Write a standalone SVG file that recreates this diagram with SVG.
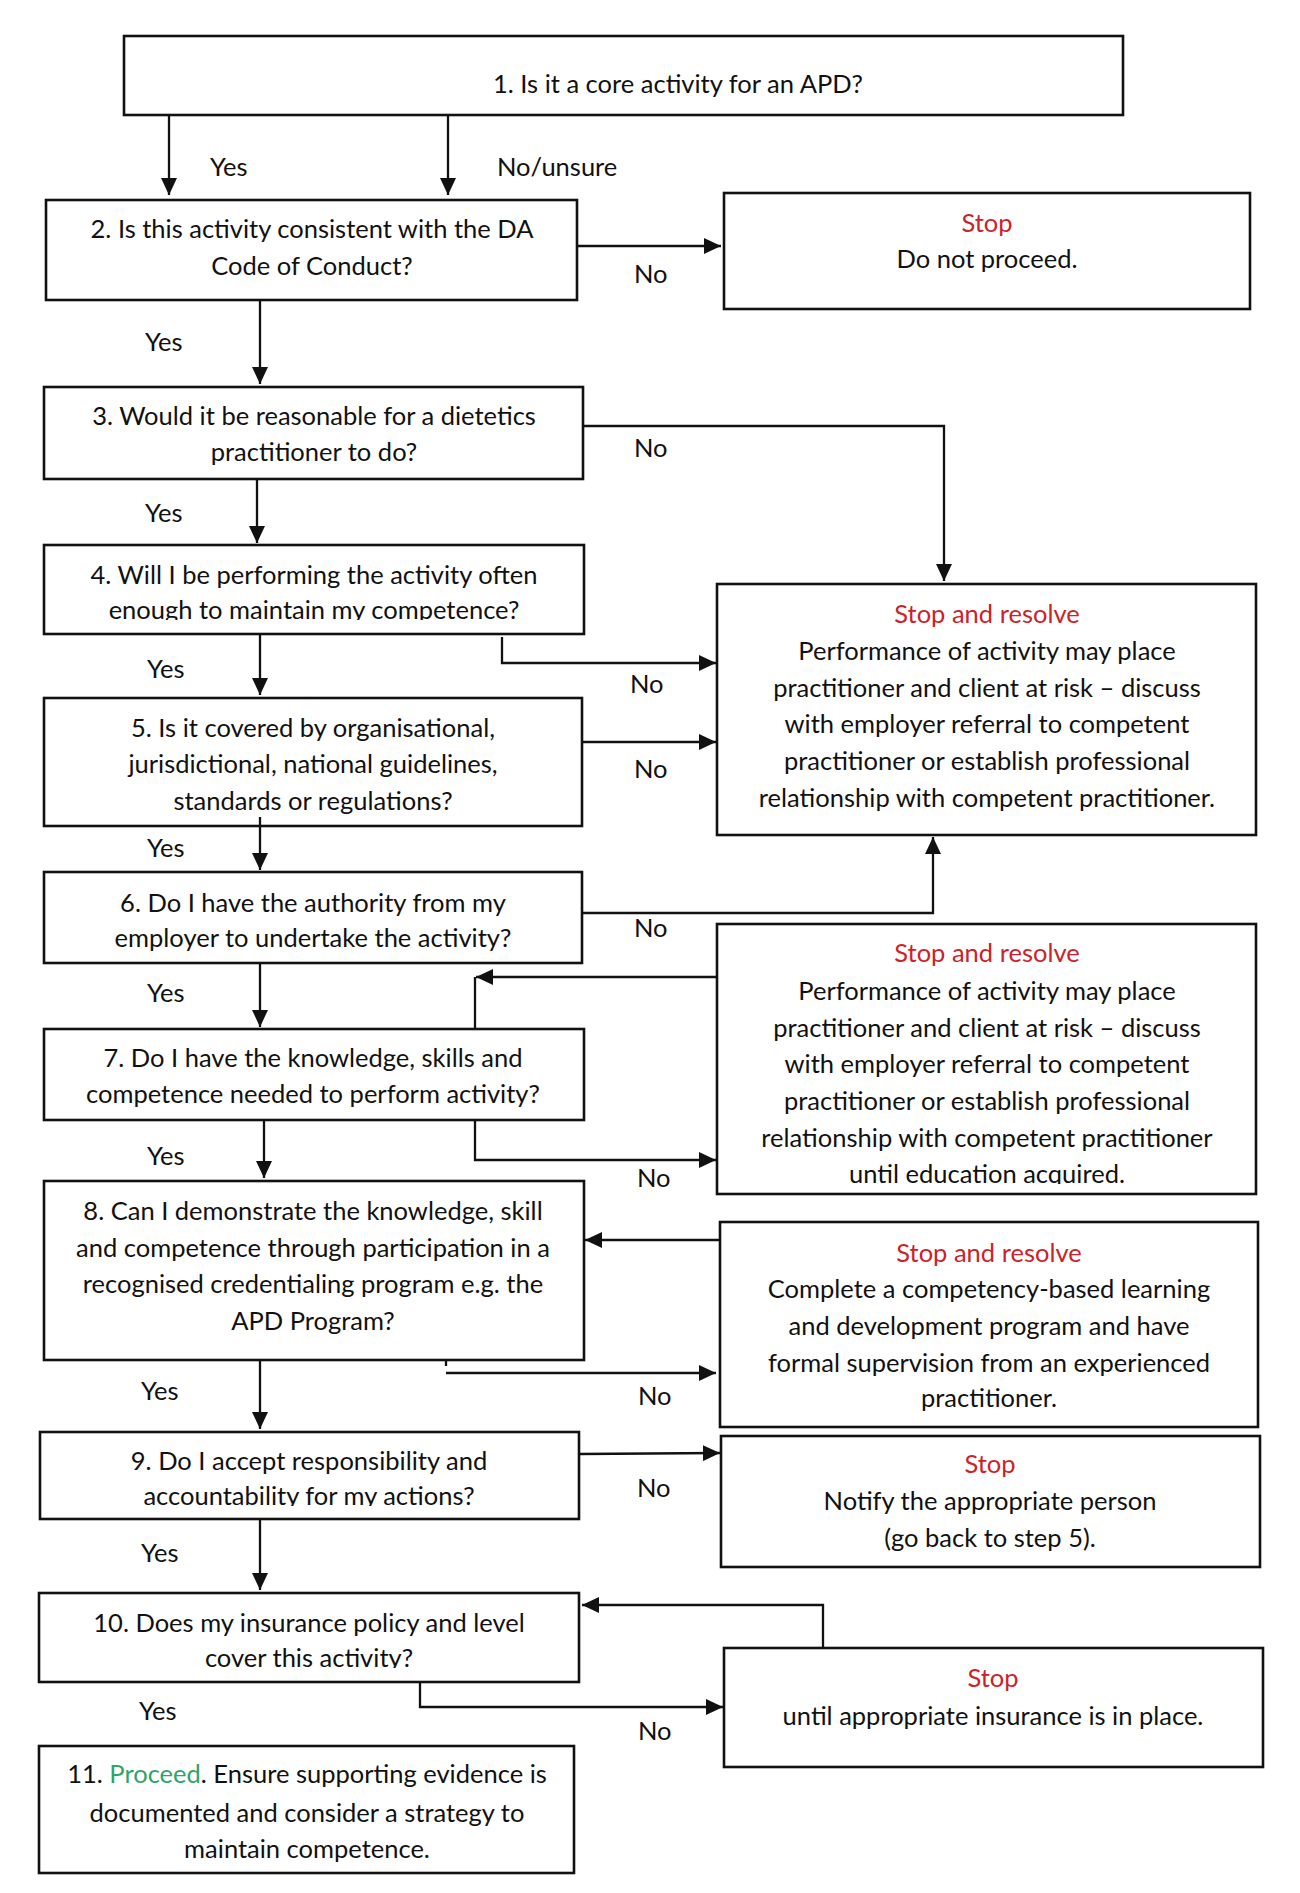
<svg xmlns="http://www.w3.org/2000/svg" width="1300" height="1893" viewBox="0 0 1300 1893">
<style>
.box{fill:#fff;stroke:#111;stroke-width:2.6}
.t{font-family:Lato,"Open Sans","Liberation Sans",sans-serif;font-size:25.5px;fill:#111;text-anchor:middle}
.l{font-family:Lato,"Open Sans","Liberation Sans",sans-serif;font-size:25.5px;fill:#111}
.red{fill:#cc2229}
.green{fill:#2fa46a}
.c{fill:none;stroke:#111;stroke-width:2.3}
.a{marker-end:url(#ah)}
</style>
<defs>
<marker id="ah" markerUnits="userSpaceOnUse" markerWidth="17" markerHeight="16" viewBox="0 0 17 16" refX="17" refY="8" orient="auto">
<path d="M0,0 L17,8 L0,16 z" fill="#111"/>
</marker>
<clipPath id="k4"><rect x="0" y="540" width="700" height="80"/></clipPath>
<clipPath id="kB"><rect x="700" y="920" width="600" height="264"/></clipPath>
<clipPath id="k9"><rect x="0" y="1430" width="700" height="76"/></clipPath>
<clipPath id="k10"><rect x="0" y="1590" width="700" height="78"/></clipPath>
</defs>
<rect width="1300" height="1893" fill="#fff"/>

<g id="n1"><rect class="box" x="124" y="36" width="999" height="79"/><text class="t" x="678" y="93">1. Is it a core activity for an APD?</text></g>
<g id="n2"><rect class="box" x="46" y="200" width="531" height="100"/><text class="t" x="312" y="238">2. Is this activity consistent with the DA</text><text class="t" x="312" y="275">Code of Conduct?</text></g>
<g id="s1"><rect class="box" x="724" y="193" width="526" height="116"/><text class="t red" x="987" y="232">Stop</text><text class="t" x="987" y="268">Do not proceed.</text></g>
<g id="n3"><rect class="box" x="44" y="387" width="539" height="92"/><text class="t" x="314" y="425">3. Would it be reasonable for a dietetics</text><text class="t" x="314" y="461">practitioner to do?</text></g>
<g id="n4"><rect class="box" x="44" y="545" width="540" height="89"/><text class="t" x="314" y="584">4. Will I be performing the activity often</text><text class="t" x="314" y="619" clip-path="url(#k4)">enough to maintain my competence?</text></g>
<g id="sA"><rect class="box" x="717" y="584" width="539" height="251"/><text class="t red" x="987" y="623">Stop and resolve</text><text class="t" x="987" y="660">Performance of activity may place</text><text class="t" x="987" y="697">practitioner and client at risk – discuss</text><text class="t" x="987" y="733">with employer referral to competent</text><text class="t" x="987" y="770">practitioner or establish professional</text><text class="t" x="987" y="807">relationship with competent practitioner.</text></g>
<g id="n5"><rect class="box" x="44" y="698" width="538" height="128"/><text class="t" x="313" y="737">5. Is it covered by organisational,</text><text class="t" x="313" y="773">jurisdictional, national guidelines,</text><text class="t" x="313" y="810">standards or regulations?</text></g>
<g id="n6"><rect class="box" x="44" y="872" width="538" height="91"/><text class="t" x="313" y="912">6. Do I have the authority from my</text><text class="t" x="313" y="947">employer to undertake the activity?</text></g>
<g id="sB"><rect class="box" x="717" y="924" width="539" height="270"/><text class="t red" x="987" y="962">Stop and resolve</text><text class="t" x="987" y="1000">Performance of activity may place</text><text class="t" x="987" y="1037">practitioner and client at risk – discuss</text><text class="t" x="987" y="1073">with employer referral to competent</text><text class="t" x="987" y="1110">practitioner or establish professional</text><text class="t" x="987" y="1147">relationship with competent practitioner</text><text class="t" x="987" y="1183" clip-path="url(#kB)">until education acquired.</text></g>
<g id="n7"><rect class="box" x="44" y="1029" width="540" height="91"/><text class="t" x="313" y="1067">7. Do I have the knowledge, skills and</text><text class="t" x="313" y="1103">competence needed to perform activity?</text></g>
<g id="n8"><rect class="box" x="44" y="1181" width="540" height="179"/><text class="t" x="313" y="1220">8. Can I demonstrate the knowledge, skill</text><text class="t" x="313" y="1257">and competence through participation in a</text><text class="t" x="313" y="1293">recognised credentialing program e.g. the</text><text class="t" x="313" y="1330">APD Program?</text></g>
<g id="sC"><rect class="box" x="720" y="1222" width="538" height="205"/><text class="t red" x="989" y="1262">Stop and resolve</text><text class="t" x="989" y="1298">Complete a competency-based learning</text><text class="t" x="989" y="1335">and development program and have</text><text class="t" x="989" y="1372">formal supervision from an experienced</text><text class="t" x="989" y="1407">practitioner.</text></g>
<g id="n9"><rect class="box" x="40" y="1432" width="539" height="87"/><text class="t" x="309" y="1470">9. Do I accept responsibility and</text><text class="t" x="309" y="1505" clip-path="url(#k9)">accountability for my actions?</text></g>
<g id="sD"><rect class="box" x="721" y="1436" width="539" height="131"/><text class="t red" x="990" y="1473">Stop</text><text class="t" x="990" y="1510">Notify the appropriate person</text><text class="t" x="990" y="1547">(go back to step 5).</text></g>
<g id="n10"><rect class="box" x="39" y="1593" width="540" height="89"/><text class="t" x="309" y="1632">10. Does my insurance policy and level</text><text class="t" x="309" y="1667" clip-path="url(#k10)">cover this activity?</text></g>
<g id="sE"><rect class="box" x="724" y="1648" width="539" height="119"/><text class="t red" x="993" y="1687">Stop</text><text class="t" x="993" y="1725">until appropriate insurance is in place.</text></g>
<g id="n11"><rect class="box" x="39" y="1746" width="535" height="127"/><text class="t" x="307" y="1783">11. <tspan class="green">Proceed</tspan>. Ensure supporting evidence is</text><text class="t" x="307" y="1822">documented and consider a strategy to</text><text class="t" x="307" y="1858">maintain competence.</text></g>

<g id="connectors">
<path class="c a" d="M169,116 V195"/>
<path class="c a" d="M448,116 V195"/>
<path class="c a" d="M577,246 H721"/>
<path class="c a" d="M260,301 V384"/>
<path class="c a" d="M583,426 H944 V581"/>
<path class="c a" d="M257,479 V543"/>
<path class="c a" d="M502,637 V663 H716"/>
<path class="c a" d="M260,634 V695"/>
<path class="c a" d="M582,742 H716"/>
<path class="c a" d="M260,817 V870"/>
<path class="c a" d="M582,913 H933 V837"/>
<path class="c a" d="M260,963 V1027"/>
<path class="c a" d="M717,977 H476"/>
<path class="c" d="M475,977 V1029"/>
<path class="c a" d="M264,1120 V1178"/>
<path class="c a" d="M475,1120 V1160 H716"/>
<path class="c a" d="M720,1240 H585"/>
<path class="c" d="M446,1360 V1366"/>
<path class="c a" d="M446,1373 H716"/>
<path class="c a" d="M260,1360 V1429"/>
<path class="c a" d="M579,1454 L720,1453"/>
<path class="c a" d="M260,1519 V1590"/>
<path class="c a" d="M823,1648 V1605 H582"/>
<path class="c a" d="M420,1682 V1707 H723"/>
</g>

<g id="labels">
<text class="l" x="210" y="176">Yes</text>
<text class="l" x="497" y="176">No/unsure</text>
<text class="l" x="634" y="283">No</text>
<text class="l" x="145" y="351">Yes</text>
<text class="l" x="634" y="457">No</text>
<text class="l" x="145" y="522">Yes</text>
<text class="l" x="147" y="678">Yes</text>
<text class="l" x="630" y="693">No</text>
<text class="l" x="634" y="778">No</text>
<text class="l" x="147" y="857">Yes</text>
<text class="l" x="634" y="937">No</text>
<text class="l" x="147" y="1002">Yes</text>
<text class="l" x="147" y="1165">Yes</text>
<text class="l" x="637" y="1187">No</text>
<text class="l" x="141" y="1400">Yes</text>
<text class="l" x="638" y="1405">No</text>
<text class="l" x="637" y="1497">No</text>
<text class="l" x="141" y="1562">Yes</text>
<text class="l" x="139" y="1720">Yes</text>
<text class="l" x="638" y="1740">No</text>
</g>
</svg>
